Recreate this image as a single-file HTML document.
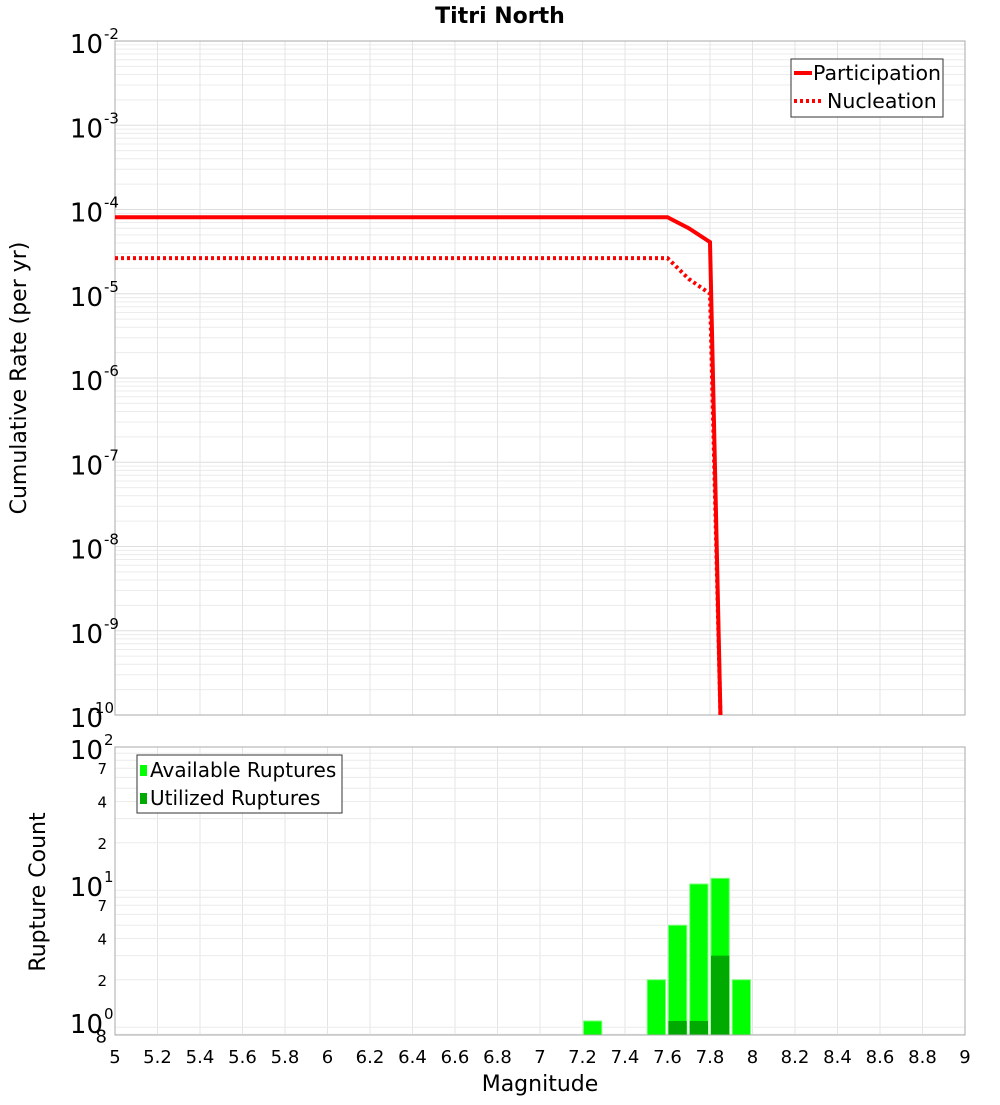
<!DOCTYPE html>
<html><head><meta charset="utf-8"><style>
body{margin:0;background:#fff;font-family:"Liberation Sans","DejaVu Sans",sans-serif}
svg text{font-family:"DejaVu Sans","Liberation Sans",sans-serif}
</style></head><body>
<svg id="c" width="1000" height="1100" xmlns="http://www.w3.org/2000/svg"></svg>
<script>
const magX=[5.0,7.6,7.7,7.8,7.85];
const partY=[8.1e-5,8.1e-5,6.0e-5,4.1e-5,8e-11];
const nuclX=[5.0,7.6,7.7,7.8,7.85];
const nuclY=[2.65e-5,2.65e-5,1.5e-5,1.0e-5,8e-11];
const binStart=[7.2,7.5,7.6,7.7,7.8,7.9];
const availCount=[1,2,5,10,11,2];
const utilBinStart=[7.6,7.7,7.8];
const utilCount=[1,1,3];
const xTicks=[5,5.2,5.4,5.6,5.8,6,6.2,6.4,6.6,6.8,7,7.2,7.4,7.6,7.8,8,8.2,8.4,8.6,8.8,9];
const topExp=[-2,-3,-4,-5,-6,-7,-8,-9,-10];
const botMinor=[[7,'7'],[4,'4'],[2,'2']];

const S=document.getElementById('c'),NS='http://www.w3.org/2000/svg';
function el(t,a,p){const e=document.createElementNS(NS,t);for(const k in a)e.setAttribute(k,a[k]);(p||S).appendChild(e);return e;}
const L=115,R=965,T1=41,B1=715,T2=747,B2=1035;
const X=m=>L+(m-5)/4*(R-L);
const Y1=v=>T1+(-2-Math.log10(v))*(B1-T1)/8;
const dec2=137;const Y2=v=>747+(2-Math.log10(v))*dec2;

let t=el('text',{x:500,y:23,'text-anchor':'middle','font-size':22,'font-weight':'bold'});t.textContent='Titri North';


const g1=el('g',{});
el('defs',{}).innerHTML='<clipPath id="cp1"><rect x="115" y="41" width="850" height="674"/></clipPath><clipPath id="cp2"><rect x="115" y="747" width="850" height="288"/></clipPath>';
for(let e=-10;e<-2;e++)for(let k=2;k<10;k++){el('line',{x1:L,x2:R,y1:Y1(k*10**e),y2:Y1(k*10**e),stroke:'#ececec','stroke-width':1},g1);}
topExp.forEach(e=>el('line',{x1:L,x2:R,y1:Y1(10**e),y2:Y1(10**e),stroke:'#dedede'},g1));
xTicks.forEach(m=>{el('line',{x1:X(m),x2:X(m),y1:T1,y2:B1,stroke:'#e4e4e4'},g1);el('line',{x1:X(m),x2:X(m),y1:T2,y2:B2,stroke:'#e4e4e4'});});
el('rect',{x:L,y:T1,width:R-L,height:B1-T1,fill:'none',stroke:'#aaa'},g1);
topExp.forEach(e=>{const y=Y1(10**e);const tx=el('text',{x:103,y:y+12,'text-anchor':'end','font-size':26,'font-family':'Liberation Sans'},g1);tx.textContent='10';
 const sp=el('text',{x:e===-10?114:104,y:y-2,'font-size':15,'text-anchor':e===-10?'end':'start'},g1);sp.textContent=String(e);});
t=el('text',{x:26,y:378,'text-anchor':'middle','font-size':22,transform:'rotate(-90 26 378)'});t.textContent='Cumulative Rate (per yr)';

const pts=(xs,ys)=>xs.map((m,i)=>X(m)+','+Y1(ys[i])).join(' ');
let p=el('polyline',{points:pts(magX,partY),fill:'none',stroke:'#f00','stroke-width':4,'clip-path':'url(#cp1)'},g1);

p=el('polyline',{points:pts(nuclX,nuclY),fill:'none',stroke:'#f00','stroke-width':4,'stroke-dasharray':'3 3','clip-path':'url(#cp1)'},g1);

const lg=el('g',{});
el('rect',{x:791,y:59,width:152,height:58,fill:'#fff',stroke:'#333'},lg);
el('line',{x1:794,x2:812,y1:73,y2:73,stroke:'#f00','stroke-width':4},lg);
el('line',{x1:794,x2:822,y1:101,y2:101,stroke:'#f00','stroke-width':4,'stroke-dasharray':'3 3'},lg);
t=el('text',{x:813,y:80,'font-size':20.5},lg);t.textContent='Participation';
t=el('text',{x:827,y:108,'font-size':20.5},lg);t.textContent='Nucleation';

const g2=el('g',{});
for(let e=-1;e<2;e++)for(let k=2;k<10;k++){const y=Y2(k*10**e);if(y<B2)el('line',{x1:L,x2:R,y1:y,y2:y,stroke:'#ececec'},g2);}
availCount.forEach((c,i)=>{const r=el('rect',{x:X(binStart[i])+1,y:Y2(c),width:X(0.1+5)-X(5)-3,height:B2-Y2(c),fill:'#00ff00',stroke:'#7f7','stroke-width':1,'clip-path':'url(#cp2)'},g2);
 });
utilCount.forEach((c,i)=>{const r=el('rect',{x:X(utilBinStart[i])+1,y:Y2(c),width:X(5.1)-X(5)-3,height:B2-Y2(c),fill:'#00aa00','clip-path':'url(#cp2)'},g2);
 });
el('rect',{x:L,y:T2,width:R-L,height:B2-T2,fill:'none',stroke:'#aaa'},g2);
[2,1,0].forEach(e=>{const y=Y2(10**e);const tx=el('text',{x:103,y:y+12,'text-anchor':'end','font-size':26,'font-family':'Liberation Sans'},g2);tx.textContent='10';
 const sp=el('text',{x:104,y:y-2,'font-size':15},g2);sp.textContent=String(e);});
[1,0].forEach(e=>botMinor.forEach(([k,s])=>{const tx=el('text',{x:107,y:Y2(k*10**e)+6,'text-anchor':'end','font-size':15},g2);tx.textContent=s;}));
t=el('text',{x:107,y:Y2(0.8)+8,'text-anchor':'end','font-size':18},g2);t.textContent='8';
t=el('text',{x:45,y:892,'text-anchor':'middle','font-size':22,transform:'rotate(-90 45 892)'});t.textContent='Rupture Count';

const lg2=el('g',{});
el('rect',{x:137,y:755,width:205,height:58,fill:'#fff',stroke:'#333'},lg2);
el('rect',{x:140,y:765,width:7,height:11,fill:'#00ff00'},lg2);
el('rect',{x:140,y:793,width:7,height:11,fill:'#00aa00'},lg2);
t=el('text',{x:150,y:777,'font-size':20},lg2);t.textContent='Available Ruptures';
t=el('text',{x:150,y:805,'font-size':20},lg2);t.textContent='Utilized Ruptures';
xTicks.forEach(m=>{const tx=el('text',{x:X(m),y:1063,'text-anchor':'middle','font-size':18});tx.textContent=String(m);
 });
t=el('text',{x:540,y:1091,'text-anchor':'middle','font-size':22});t.textContent='Magnitude';

</script>
</body></html>
